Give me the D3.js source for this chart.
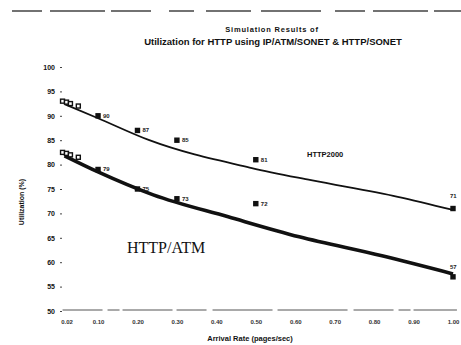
<!DOCTYPE html>
<html>
<head>
<meta charset="utf-8">
<script src="https://cdn.jsdelivr.net/npm/d3@7"></script>
<style>
  body { margin: 0; background: #fff; }
  text { font-family: "Liberation Sans", Arial, sans-serif; }
</style>
</head>
<body>
<svg id="chart" width="461" height="345"></svg>
<script>
// arrival rates and simulated utilization
const rates = [0.01, 0.02, 0.03, 0.05, 0.1, 0.2, 0.3, 0.5, 1.0];
const sonetUtil = [93, 92.8, 92.5, 92, 90, 87, 85, 81, 71];
const atmUtil = [82.5, 82.3, 82, 81.5, 79, 75, 73, 72, 57];
const labelledRates = [0.1, 0.2, 0.3, 0.5, 1.0];

// fitted trend lines as drawn on the figure
const sonetTrendRates = [0.015, 0.1, 0.23, 0.49, 0.64, 0.86, 1.0];
const sonetTrend = [92.4, 89.5, 85.0, 79.3, 76.8, 73.4, 70.7];
const atmTrendRates = [0.015, 0.1, 0.24, 0.43, 0.61, 0.82, 1.0];
const atmTrend = [81.8, 78.5, 73.8, 69.3, 65.2, 61.3, 57.6];

const xTicks = [0.02, 0.1, 0.2, 0.3, 0.4, 0.5, 0.6, 0.7, 0.8, 0.9, 1.0];
const yTicks = [50, 55, 60, 65, 70, 75, 80, 85, 90, 95, 100];

const svg = d3.select("#chart");
const ink = "#111";

const x = d3.scaleLinear().domain([0, 1]).range([58.6, 453]);
const y = d3.scaleLinear().domain([50, 100]).range([311, 67]);

// scan artifact line at top
svg.append("line")
  .attr("x1", 12).attr("x2", 461).attr("y1", 11).attr("y2", 11)
  .attr("stroke", "#444").attr("stroke-width", 1.3)
  .attr("stroke-dasharray", "30,8,55,6,40,18,25,12,45,10,60,14");

// title
svg.append("text")
  .attr("x", 272).attr("y", 32)
  .attr("text-anchor", "middle")
  .attr("font-size", 7.5).attr("font-weight", "bold").attr("fill", ink)
  .attr("letter-spacing", 0.8)
  .text("Simulation Results of");
svg.append("text")
  .attr("x", 273).attr("y", 45)
  .attr("text-anchor", "middle")
  .attr("font-size", 9.5).attr("font-weight", "bold").attr("fill", ink)
  .text("Utilization for HTTP using IP/ATM/SONET & HTTP/SONET");

// x axis
const xAxis = svg.append("g")
  .attr("transform", "translate(0,311)")
  .call(d3.axisBottom(x).tickValues(xTicks).tickSize(0).tickPadding(9)
    .tickFormat(d3.format(".2f")));
xAxis.select(".domain").remove();
xAxis.selectAll("text")
  .attr("font-size", 6).attr("font-weight", "bold").attr("fill", "#333")
  .style("font-family", "Liberation Sans, Arial, sans-serif");
svg.append("line")
  .attr("x1", x(0.01)).attr("x2", x(1.01)).attr("y1", 310).attr("y2", 310)
  .attr("stroke", "#555").attr("stroke-width", 1)
  .attr("stroke-dasharray", "40,5,12,3,50,4,30,6,60,5,70,6");

// y axis labels with small ticks
const yAxis = svg.append("g")
  .attr("transform", "translate(62,0)")
  .call(d3.axisLeft(y).tickValues(yTicks).tickSize(2).tickPadding(5));
yAxis.select(".domain").remove();
yAxis.selectAll("line").attr("stroke", "#444");
yAxis.selectAll("text")
  .attr("font-size", 7).attr("font-weight", "bold").attr("fill", ink)
  .style("font-family", "Liberation Sans, Arial, sans-serif");

// axis titles
svg.append("text")
  .attr("transform", "translate(24,202) rotate(-90)")
  .attr("text-anchor", "middle")
  .attr("font-size", 7).attr("font-weight", "bold").attr("fill", ink)
  .text("Utilization (%)");
svg.append("text")
  .attr("x", 250).attr("y", 341)
  .attr("text-anchor", "middle")
  .attr("font-size", 7.5).attr("font-weight", "bold").attr("fill", ink)
  .text("Arrival Rate (pages/sec)");

// trend lines
const line = d3.line()
  .x(d => x(d[0])).y(d => y(d[1]))
  .curve(d3.curveMonotoneX);

svg.append("path")
  .datum(d3.zip(sonetTrendRates, sonetTrend))
  .attr("d", line)
  .attr("fill", "none").attr("stroke", ink).attr("stroke-width", 1.8);

svg.append("path")
  .datum(d3.zip(atmTrendRates, atmTrend))
  .attr("d", line)
  .attr("fill", "none").attr("stroke", ink).attr("stroke-width", 3.6);

// data markers and value labels
function drawPoints(values, endDy) {
  const pts = d3.zip(rates, values);
  svg.append("g").selectAll("rect")
    .data(pts)
    .join("rect")
    .attr("x", d => x(d[0]) - 2)
    .attr("y", d => y(d[1]) - 2)
    .attr("width", 4).attr("height", 4)
    .attr("fill", d => d[0] < 0.1 ? "#fff" : ink)
    .attr("stroke", ink).attr("stroke-width", 1.4);

  svg.append("g").selectAll("text")
    .data(pts.filter(d => labelledRates.includes(d[0])))
    .join("text")
    .attr("x", d => d[0] === 1 ? x(d[0]) - 3 : x(d[0]) + 5)
    .attr("y", d => d[0] === 1 ? y(d[1]) + endDy : y(d[1]) + 2)
    .attr("font-size", 6).attr("font-weight", "bold").attr("fill", "#222")
    .text(d => d[1]);
}
drawPoints(sonetUtil, -11);
drawPoints(atmUtil, -8);

// series labels
svg.append("text")
  .attr("x", 307).attr("y", 157)
  .attr("font-size", 7.5).attr("font-weight", "bold").attr("fill", ink)
  .text("HTTP2000");
svg.append("text")
  .attr("x", 127).attr("y", 253)
  .attr("font-size", 16).attr("fill", ink)
  .style("font-family", "Liberation Serif, Times New Roman, serif")
  .text("HTTP/ATM");
</script>
</body>
</html>
